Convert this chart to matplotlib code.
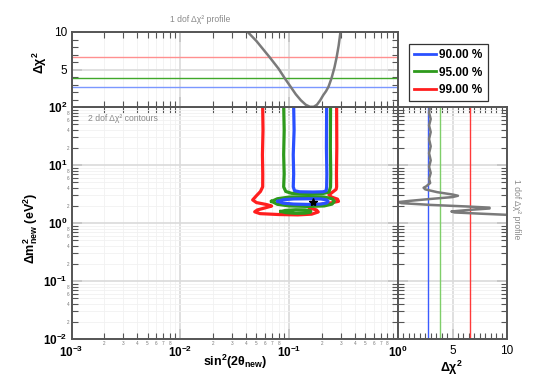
import matplotlib
matplotlib.use('Agg')
import matplotlib.pyplot as plt
from matplotlib.ticker import FixedLocator, FuncFormatter, MultipleLocator, LogLocator, NullFormatter
from matplotlib.lines import Line2D
import numpy as np

plt.rcParams['font.family'] = 'Liberation Sans'
plt.rcParams['mathtext.fontset'] = 'custom'
plt.rcParams['mathtext.rm'] = 'Liberation Sans:bold'
plt.rcParams['mathtext.it'] = 'Liberation Sans:bold'
plt.rcParams['mathtext.bf'] = 'Liberation Sans:bold'

# ---------------- data ----------------
CL_LABELS = ['90.00 %', '95.00 %', '99.00 %']
CL_1DOF = [2.71, 3.84, 6.63]

# 1-dof profile in sin^2(2theta)
TOP_S = [0.035, 0.0416, 0.050, 0.0662, 0.080, 0.091, 0.103, 0.115, 0.128, 0.142, 0.155,
         0.168, 0.180, 0.193, 0.206, 0.218, 0.230, 0.245, 0.261, 0.273, 0.285, 0.296, 0.31]
TOP_D = [11.8, 10.0, 8.8, 6.63, 5.1, 3.84, 2.71, 1.7, 0.9, 0.3, 0.03,
         0.03, 0.3, 0.9, 1.6, 2.1, 2.71, 3.84, 5.3, 6.63, 8.2, 10.0, 12.0]

# 1-dof profile in dm^2
RIGHT_D = [2.95, 2.85, 3.0, 2.85, 3.0, 2.85, 3.0, 2.85, 3.0, 2.85, 3.0, 2.85, 2.95, 2.6, 2.35,
           2.5, 3.6, 5.0, 5.5, 5.0, 3.0, 1.0, 0.1, 0.3, 3.0, 6.5, 8.4, 8.4, 6.5, 4.9, 5.2,
           7.5, 10.5, 14.0]
RIGHT_M = [100, 80, 62, 48, 37, 28, 21, 16, 12, 9.3, 7.3, 5.8, 4.9, 4.3, 4.05,
           3.8, 3.4, 3.1, 2.95, 2.8, 2.6, 2.4, 2.3, 2.2, 2.05, 1.92, 1.84, 1.78, 1.68, 1.58, 1.52,
           1.45, 1.37, 1.3]

# 2-dof contours (sin^2 2theta, dm^2)
BLUE_U_S = [0.110, 0.111, 0.109, 0.110, 0.109, 0.112, 0.125, 0.165, 0.205, 0.219, 0.221, 0.222, 0.220, 0.221]
BLUE_U_M = [100, 40, 15, 7, 4.2, 3.6, 3.45, 3.42, 3.45, 3.6, 4.2, 7, 20, 100]
BLUE_I_S = [0.079, 0.088, 0.110, 0.150, 0.195, 0.222, 0.228, 0.222, 0.195, 0.150, 0.110, 0.088, 0.079]
BLUE_I_M = [2.36, 2.52, 2.60, 2.62, 2.60, 2.50, 2.36, 2.22, 2.12, 2.09, 2.12, 2.20, 2.36]

GREEN_U_S = [0.0891, 0.090, 0.089, 0.090, 0.089, 0.093, 0.105, 0.150, 0.200, 0.232, 0.240, 0.241, 0.239, 0.240]
GREEN_U_M = [100, 40, 15, 7, 4.2, 3.5, 3.25, 3.16, 3.2, 3.4, 4.2, 7, 20, 100]
GREEN_R_S = [0.069, 0.078, 0.100, 0.150, 0.210, 0.248, 0.260, 0.248, 0.210, 0.150, 0.100, 0.078, 0.069]
GREEN_R_M = [2.36, 2.62, 2.80, 2.85, 2.80, 2.62, 2.36, 2.12, 1.97, 1.93, 1.97, 2.10, 2.36]
GREEN_I_S = [0.084, 0.093, 0.115, 0.140, 0.156, 0.158, 0.156, 0.140, 0.115, 0.093, 0.084]
GREEN_I_M = [1.58, 1.65, 1.69, 1.68, 1.63, 1.58, 1.53, 1.48, 1.47, 1.51, 1.58]

RED_S = [0.0571, 0.0575, 0.0568, 0.0572, 0.0571, 0.0545, 0.0500, 0.0462, 0.0500, 0.0620, 0.0690,
         0.0600, 0.0510, 0.0482, 0.0540, 0.0800, 0.1200, 0.1610, 0.1850, 0.1780, 0.1560, 0.1500,
         0.1800, 0.2350, 0.2840, 0.2780, 0.2450, 0.2320, 0.2500, 0.2700, 0.2730, 0.2720, 0.2740, 0.2730]
RED_M = [100, 40, 15, 7, 4.2, 3.5, 2.95, 2.50, 2.25, 2.08, 1.96, 1.82, 1.68, 1.56, 1.45, 1.40,
         1.38, 1.42, 1.55, 1.68, 1.80, 1.90, 2.05, 2.20, 2.36, 2.58, 2.80, 3.05, 3.40, 3.80, 4.2,
         7, 20, 100]

BEST_S, BEST_M = [0.164], [2.3]

X_MAJOR = [1e-3, 1e-2, 1e-1, 1e0]
Y_MAJOR = [1e-2, 1e-1, 1e0, 1e1, 1e2]
X_MINOR_LABELED = [2, 3, 4, 5, 6, 7, 8]
Y_MINOR_LABELED = [2, 4, 6, 8]
CHI_TICKS = [0, 5, 10]
CHI_LABELS = ['', '5', '10']

# ---------------- figure ----------------
W, H = 545, 387
fig = plt.figure(figsize=(W / 100, H / 100), dpi=100)

def fx(px):
    return px / W

def fy(py):
    return 1 - py / H

L, R, T, B = 71.5, 398, 107, 339
TT, RR = 32, 507
ax = fig.add_axes([fx(L), fy(B), fx(R) - fx(L), fy(T) - fy(B)])
axt = fig.add_axes([fx(L), fy(T), fx(R) - fx(L), fy(TT) - fy(T)])
axr = fig.add_axes([fx(R), fy(B), fx(RR) - fx(R), fy(T) - fy(B)])

BLUE, GREEN, RED = '#2a50ff', '#2e9a1c', '#ff1e1e'
GRAYC = '#7a7a7a'
SP = '#555555'
GMAJ, GMIN = '#dadada', '#f1f1f1'

def style(a):
    for s in a.spines.values():
        s.set_color(SP)
        s.set_linewidth(1.4)
    a.tick_params(which='both', direction='in', top=True, right=True, color=SP)
    a.tick_params(which='major', length=7, width=1.4, color='#c8c8c8', labelsize=8.5, pad=2)
    a.tick_params(which='minor', length=4, width=0.8, color=SP)
    a.set_axisbelow(True)

def minor_fmt(labeled):
    def f(v, pos):
        m = int(round(v / 10 ** np.floor(np.log10(v) + 1e-9)))
        return str(m) if m in labeled else ''
    return FuncFormatter(f)

def major_fmt(v, pos):
    return r'$10^{%d}$' % int(round(np.log10(v)))

# main axes
ax.set_xscale('log')
ax.set_yscale('log')
ax.set_xlim(1e-3, 1)
ax.set_ylim(1e-2, 1e2)
style(ax)
ax.xaxis.set_major_locator(FixedLocator(X_MAJOR))
ax.yaxis.set_major_locator(FixedLocator(Y_MAJOR))
ax.xaxis.set_major_formatter(FuncFormatter(major_fmt))
ax.yaxis.set_major_formatter(FuncFormatter(major_fmt))
ax.xaxis.set_minor_locator(LogLocator(base=10, subs=np.arange(2, 10)))
ax.yaxis.set_minor_locator(LogLocator(base=10, subs=np.arange(2, 10)))
ax.xaxis.set_minor_formatter(minor_fmt(X_MINOR_LABELED))
ax.yaxis.set_minor_formatter(minor_fmt(Y_MINOR_LABELED))
ax.tick_params(which='minor', labelsize=3.3, labelcolor='#777777', pad=1.5)
ax.tick_params(axis='x', which='major', pad=4.5)
ax.tick_params(axis='y', which='major', pad=3)
ax.grid(which='major', color=GMAJ, lw=1.2)
ax.grid(which='minor', color=GMIN, lw=0.6)

lw = 2.3
ax.plot(RED_S, RED_M, color=RED, lw=lw)
ax.plot(GREEN_U_S, GREEN_U_M, color=GREEN, lw=lw)
ax.plot(GREEN_R_S, GREEN_R_M, color=GREEN, lw=lw)
ax.plot(GREEN_I_S, GREEN_I_M, color=GREEN, lw=lw)
ax.plot(BLUE_U_S, BLUE_U_M, color=BLUE, lw=lw)
ax.plot(BLUE_I_S, BLUE_I_M, color=BLUE, lw=lw)
ax.plot(BEST_S, BEST_M, marker='*', color='black', ms=6, ls='none')
ax.text(0.05, 0.95, '2 dof Δχ² contours', transform=ax.transAxes, fontsize=6.2,
        color='#8a8a8a', ha='left', va='center')

# top axes
axt.set_xscale('log')
axt.set_xlim(1e-3, 1)
axt.set_ylim(0, 10)
style(axt)
axt.xaxis.set_major_locator(FixedLocator(X_MAJOR))
axt.xaxis.set_minor_locator(LogLocator(base=10, subs=np.arange(2, 10)))
axt.xaxis.set_minor_formatter(NullFormatter())
axt.tick_params(axis='x', which='both', labelbottom=False)
axt.yaxis.set_major_locator(FixedLocator(CHI_TICKS))
axt.yaxis.set_major_formatter(FuncFormatter(lambda v, p: CHI_LABELS[CHI_TICKS.index(int(round(v)))]))
axt.yaxis.set_minor_locator(MultipleLocator(1))
axt.tick_params(axis='y', which='major', pad=3)
axt.grid(which='major', color=GMAJ, lw=1.2)
axt.grid(which='minor', axis='x', color=GMIN, lw=0.6)
axt.axhline(CL_1DOF[0], color='#7b98ff', lw=1.0)
axt.axhline(CL_1DOF[1], color='#40a82a', lw=1.0)
axt.axhline(CL_1DOF[2], color='#ff9090', lw=1.0)
axt.plot(TOP_S, TOP_D, color=GRAYC, lw=1.8)

# right axes
axr.set_yscale('log')
axr.set_ylim(1e-2, 1e2)
axr.set_xlim(0, 10)
style(axr)
axr.yaxis.set_major_locator(FixedLocator(Y_MAJOR))
axr.yaxis.set_minor_locator(LogLocator(base=10, subs=np.arange(2, 10)))
axr.yaxis.set_minor_formatter(NullFormatter())
axr.tick_params(axis='y', which='both', labelleft=False)
axr.xaxis.set_major_locator(FixedLocator(CHI_TICKS))
axr.xaxis.set_major_formatter(FuncFormatter(lambda v, p: CHI_LABELS[CHI_TICKS.index(int(round(v)))]))
axr.xaxis.set_minor_locator(MultipleLocator(0.5))
axr.tick_params(axis='x', which='major', pad=4)
axr.grid(which='major', color=GMAJ, lw=1.2)
axr.grid(which='minor', axis='y', color=GMIN, lw=0.6)
axr.axvline(CL_1DOF[0], color='#3b5bff', lw=1.0)
axr.axvline(CL_1DOF[1], color='#7fce6a', lw=1.0)
axr.axvline(CL_1DOF[2], color='#ff3a3a', lw=1.0)
axr.plot(RIGHT_D, RIGHT_M, color=GRAYC, lw=1.8)

# texts
fig.text(fx(200), fy(20), '1 dof Δχ² profile', fontsize=6.2, color='#8a8a8a', ha='center', va='center')
fig.text(fx(517), fy(209), '1 dof Δχ² profile', fontsize=6.2, color='#8a8a8a', ha='center', va='center',
         rotation=270)
fig.text(fx(40), fy(62), r'$\Delta\chi^2$', fontsize=9, ha='center', va='center', rotation=90)
fig.text(fx(31), fy(228), r'$\Delta m^2_{new}$ (eV$^2$)', fontsize=9, fontweight='bold',
         ha='center', va='center', rotation=90)
fig.text(fx(235), fy(362), r'sin$^2$(2$\theta_{new}$)', fontsize=9, fontweight='bold',
         ha='center', va='center')
fig.text(fx(452), fy(368), r'$\Delta\chi^2$', fontsize=9, ha='center', va='center')

handles = [Line2D([], [], color=c, lw=2) for c in (BLUE, GREEN, RED)]
leg = fig.legend(handles, CL_LABELS, loc='upper left', bbox_to_anchor=(fx(409), fy(44)),
                 prop={'weight': 'bold', 'size': 8.5}, handlelength=1.8, handletextpad=0.3,
                 labelspacing=0.45, borderpad=0.45, borderaxespad=0, fancybox=False,
                 edgecolor='#333333', framealpha=1)
leg.get_frame().set_linewidth(0.9)

fig.savefig('out.png', dpi=100)
